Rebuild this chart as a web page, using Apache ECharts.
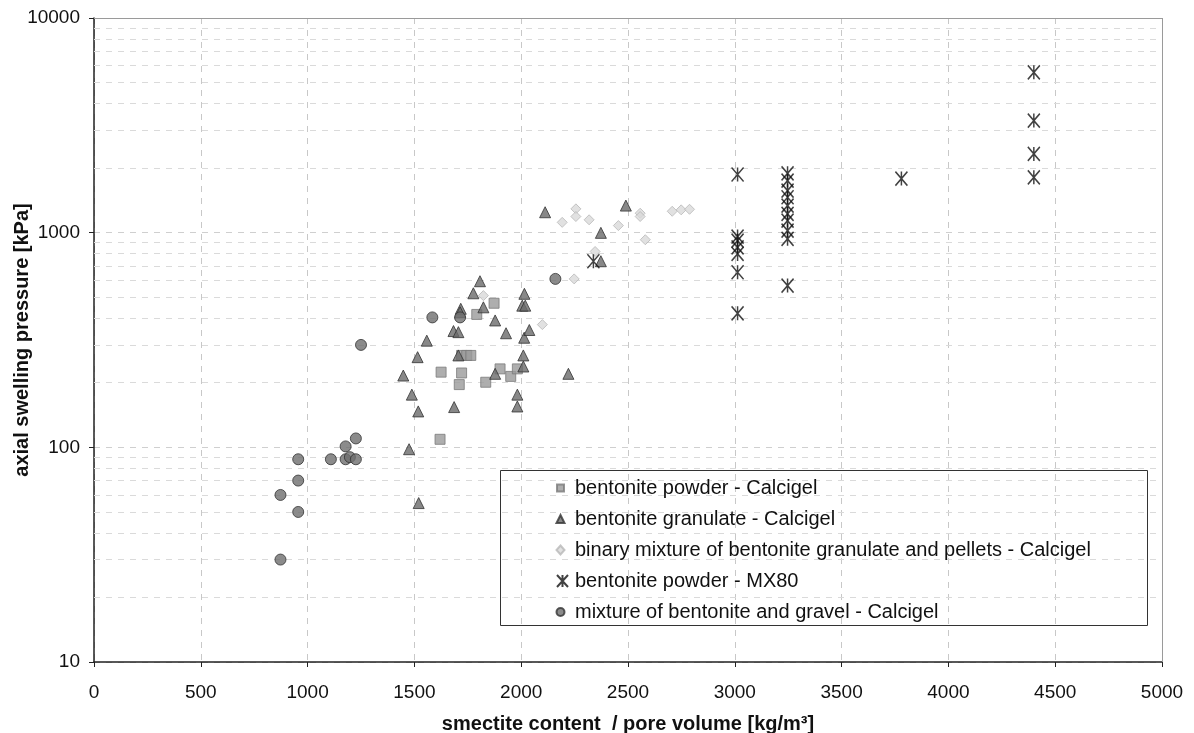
<!DOCTYPE html>
<html>
<head>
<meta charset="utf-8">
<script src="https://cdn.jsdelivr.net/npm/echarts@6/dist/echarts.min.js"></script>
<style>
html,body{margin:0;padding:0;background:#fff;}
#chart{width:1194px;height:733px;}
</style>
</head>
<body>
<div id="chart"></div>
<script>
// ---- data ----
var seriesNames = [
  'bentonite powder - Calcigel',
  'bentonite granulate - Calcigel',
  'binary mixture of bentonite granulate and pellets - Calcigel',
  'bentonite powder - MX80',
  'mixture of bentonite and gravel - Calcigel'
];
var powderCalcigel = [[1620,109],[1625,224],[1710,196],[1721,222],[1721,268],[1745,268],[1764,268],[1792,416],[1834,201],[1873,469],[1901,232],[1951,214],[1982,232]];
var granulateCalcigel = [[1448,216],[1475,98],[1488,176],[1518,147],[1520,55],[1515,263],[1558,314],[1683,348],[1686,154],[1706,344],[1706,268],[1717,442],[1714,426],[1776,522],[1807,594],[1823,449],[1878,390],[1878,220],[1929,340],[1982,176],[1982,155],[2005,457],[2019,457],[2010,268],[2010,238],[2014,324],[2015,519],[2038,352],[2221,220],[2112,1245],[2373,998],[2373,736],[2490,1337]];
var binaryMixture = [[1823,509],[2099,373],[2248,609],[2192,1117],[2256,1291],[2256,1189],[2318,1148],[2346,817],[2455,1079],[2557,1232],[2557,1189],[2581,927],[2707,1258],[2749,1277],[2788,1285]];
var powderMX80 = [[2338,736],[3013,1866],[3013,959],[3013,918],[3013,855],[3013,796],[3013,654],[3013,421],[3247,1891],[3247,1749],[3247,1571],[3247,1462],[3247,1337],[3247,1224],[3247,1138],[3247,1023],[3247,936],[3247,567],[3780,1787],[4400,5585],[4400,3327],[4400,2328],[4400,1811]];
var gravelMixture = [[873,30],[873,60],[956,50],[956,70],[956,88],[1109,88],[1178,88],[1178,101],[1198,90],[1226,88],[1226,110],[1250,300],[1584,403],[1714,403],[2160,609]];
var xTicks = [0,500,1000,1500,2000,2500,3000,3500,4000,4500,5000];
var yTicks = [10,100,1000,10000];
var minorGridValues = [20,30,40,50,60,70,80,90,200,300,400,500,600,700,800,900,2000,3000,4000,5000,6000,7000,8000,9000];

var FONT = '"Liberation Sans", Arial, Helvetica, sans-serif';
var chart = echarts.init(document.getElementById('chart'), null, {renderer:'canvas'});
var xPath = 'path://M0,0L10,12M10,0L0,12M5,0L5,12';

// legend icons: same 14x12 box, shape drawn on the left part
var iconSquare  = 'path://M0,0M14,12M1,2.5L8,2.5L8,9.5L1,9.5Z';
var iconTri     = 'path://M0,0M14,12M4.5,2L8.5,10L0.5,10Z';
var iconDiamond = 'path://M0,0M14,12M4.5,1.5L8.5,6L4.5,10.5L0.5,6Z';
var iconX       = 'path://M0,0M14,12M1,0L12,12M12,0L1,12M6.5,0L6.5,12';
var iconCircle  = 'path://M0,0M14,12M0.5,6A4,4 0 1 1 8.5,6A4,4 0 1 1 0.5,6Z';
var legendIcons = [iconSquare, iconTri, iconDiamond, iconX, iconCircle];

var option = {
  backgroundColor: '#ffffff',
  animation: false,
  grid: {left: 94, right: 32, top: 18, bottom: 71, containLabel: false, outerBoundsMode: 'none'},
  xAxis: {
    type: 'value', min: 0, max: 5000, interval: 500,
    name: 'smectite content  / pore volume [kg/m\u00b3]',
    nameLocation: 'middle', nameGap: 52, nameMoveOverlap: false,
    nameTextStyle: {fontFamily: FONT, fontSize: 20, fontWeight: 'bold', color: '#111'},
    axisLine: {show: true, onZero: false, lineStyle: {color: '#222', width: 1.5}},
    axisTick: {show: true, inside: false, length: 5, lineStyle: {color: '#222'}},
    axisLabel: {fontFamily: FONT, fontSize: 19, color: '#111', margin: 21,
      formatter: function(v){ return xTicks.indexOf(v) >= 0 ? String(v) : ''; }},
    splitLine: {show: true, lineStyle: {color: '#c8c8c8', type: [6,6], width: 1}}
  },
  yAxis: {
    type: 'log', logBase: 10, min: 10, max: 10000,
    name: 'axial swelling pressure [kPa]',
    nameLocation: 'middle', nameGap: 62, nameRotate: 90, nameMoveOverlap: false,
    nameTextStyle: {fontFamily: FONT, fontSize: 20, fontWeight: 'bold', color: '#111'},
    axisLine: {show: true, onZero: false, lineStyle: {color: '#222', width: 1.5}},
    axisTick: {show: true, inside: false, length: 5, lineStyle: {color: '#222'}},
    axisLabel: {fontFamily: FONT, fontSize: 19, color: '#111', margin: 14,
      formatter: function(v){ return yTicks.indexOf(Math.round(v)) >= 0 ? String(Math.round(v)) : ''; }},
    splitLine: {show: true, lineStyle: {color: '#cfcfcf', type: [6,6], width: 1}}
  },
  legend: {
    orient: 'vertical', left: 550, top: 472,
    itemWidth: 14, itemHeight: 12, itemGap: 9,
    textStyle: {fontFamily: FONT, fontSize: 20, color: '#111', lineHeight: 22},
    data: seriesNames.map(function(n, i){ return {name: n, icon: legendIcons[i]}; })
  },
  graphic: [{
    type: 'rect', left: 500, top: 470, z: 0,
    shape: {width: 647, height: 155},
    style: {fill: '#fff', stroke: '#333', lineWidth: 1}
  }],
  series: [
    {
      name: seriesNames[0], type: 'scatter', data: powderCalcigel,
      symbol: 'rect', symbolSize: 10, z: 3,
      itemStyle: {color: '#9a9a9a', borderColor: '#7a7a7a', borderWidth: 1},
      markLine: {
        silent: true, symbol: 'none', label: {show: false}, z: 1,
        lineStyle: {color: '#dadada', type: [6,6], width: 1},
        data: minorGridValues.map(function(v){ return {yAxis: v}; })
      }
    },
    {
      name: seriesNames[1], type: 'scatter', data: granulateCalcigel,
      symbol: 'triangle', symbolSize: 11, z: 4,
      itemStyle: {color: '#6a6a6a', borderColor: '#333', borderWidth: 1},
      markLine: {
        silent: true, symbol: 'none', label: {show: false}, z: 1,
        lineStyle: {color: '#9a9a9a', type: 'solid', width: 1},
        data: [{xAxis: xTicks[xTicks.length - 1]}, {yAxis: yTicks[yTicks.length - 1]}]
      }
    },
    {
      name: seriesNames[2], type: 'scatter', data: binaryMixture,
      symbol: 'diamond', symbolSize: 10, z: 3,
      itemStyle: {color: '#dadada', borderColor: '#b8b8b8', borderWidth: 1}
    },
    {
      name: seriesNames[3], type: 'scatter', data: powderMX80,
      symbol: xPath, symbolSize: [12, 14], z: 5,
      itemStyle: {color: 'rgba(0,0,0,0)', borderColor: '#111', borderWidth: 1.6}
    },
    {
      name: seriesNames[4], type: 'scatter', data: gravelMixture,
      symbol: 'circle', symbolSize: 11, z: 4,
      itemStyle: {color: '#6e6e6e', borderColor: '#333', borderWidth: 1}
    }
  ]
};
chart.setOption(option);
</script>
</body>
</html>
